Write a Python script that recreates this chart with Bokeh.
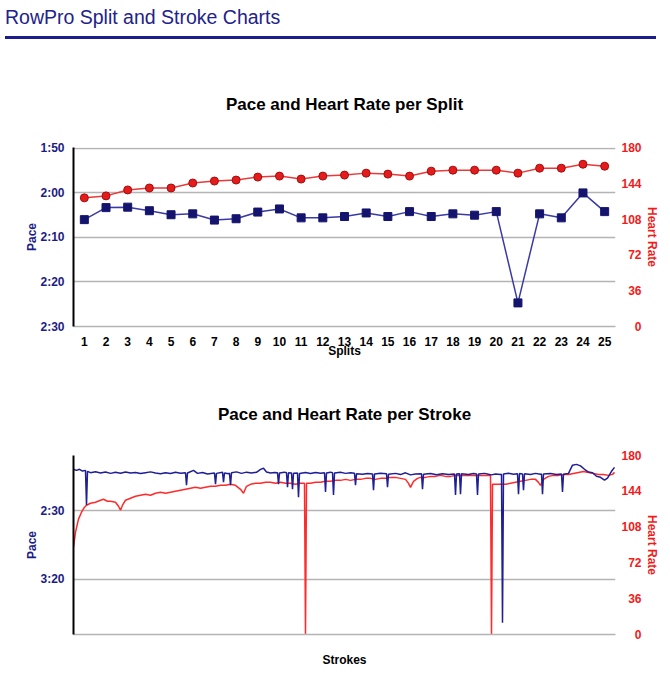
from bokeh.plotting import figure
from bokeh.models import Range1d, LinearAxis, FixedTicker, Div
from bokeh.layouts import column
from bokeh.embed import file_html
from bokeh.resources import INLINE

# ---------------- data ----------------
page_title = "RowPro Split and Stroke Charts"
split_title = "Pace and Heart Rate per Split"
stroke_title = "Pace and Heart Rate per Stroke"

splits = list(range(1, 26))
split_pace = [126.0, 123.3, 123.2, 124.0, 124.9, 124.7, 126.1, 125.8, 124.3, 123.6,
              125.6, 125.6, 125.3, 124.5, 125.3, 124.2, 125.3, 124.7, 125.0, 124.2,
              144.7, 124.7, 125.6, 120.0, 124.2]
split_hr = [130, 132, 138, 140, 140, 145, 147, 148, 151, 152,
            149, 152, 153, 155, 154, 152, 157, 158, 158, 158,
            155, 160, 160, 164, 162]

split_pace_ticks = [110, 120, 130, 140, 150]
split_pace_labels = ["1:50", "2:00", "2:10", "2:20", "2:30"]
stroke_pace_ticks = [150, 200]
stroke_pace_labels = ["2:30", "3:20"]
hr_ticks = [0, 36, 72, 108, 144, 180]
hr_labels = ["\u2007\u20070", "\u200736", "\u200772", "108", "144", "180"]

stroke_pace_x = [0, 6, 12, 18, 24, 26, 28, 34, 44, 54, 64, 74, 84, 94, 104, 114, 124, 134,
                 144, 154, 164, 174, 184, 194, 204, 214, 224, 226, 228, 240, 248, 258, 268,
                 282, 284, 286, 298, 300, 302, 310, 312, 314, 316, 326, 336, 346, 356, 366,
                 374, 380, 386, 394, 402, 408, 410, 412, 422, 426, 428, 430, 436, 438, 440,
                 448, 450, 452, 464, 474, 484, 494, 502, 504, 506, 514, 518, 520, 522, 534,
                 544, 554, 562, 564, 566, 578, 588, 598, 600, 602, 614, 626, 628, 630, 644,
                 654, 664, 674, 684, 696, 698, 700, 714, 726, 738, 750, 762, 764, 766, 772,
                 774, 776, 790, 800, 806, 808, 810, 822, 830, 836, 844, 854, 856, 858, 860,
                 870, 880, 888, 890, 892, 898, 900, 902, 914, 924, 934, 936, 938, 940, 954,
                 966, 976, 978, 980, 990, 998, 1006, 1014, 1022, 1030, 1038, 1046, 1054,
                 1062, 1068, 1076, 1082]
stroke_pace = [119.5, 120.3, 119.5, 120.8, 120.3, 145.7, 121.0, 122.0, 121.3, 122.2, 121.5,
               122.5, 121.7, 122.4, 121.5, 122.2, 121.8, 122.6, 122.0, 121.4, 122.3, 122.8,
               122.0, 122.6, 121.7, 122.4, 122.0, 131.2, 122.2, 120.3, 122.5, 121.8, 122.9,
               122.3, 130.4, 122.5, 121.6, 129.0, 122.2, 122.8, 122.4, 131.2, 122.0, 121.4,
               122.5, 121.6, 122.3, 121.7, 119.6, 118.8, 121.5, 122.2, 121.8, 122.0, 130.4,
               122.3, 121.6, 122.1, 132.6, 122.0, 122.2, 134.1, 122.4, 122.3, 139.9, 122.6,
               121.9, 122.6, 121.8, 122.4, 122.1, 136.2, 122.2, 121.6, 122.0, 138.4, 122.3,
               121.7, 122.5, 122.0, 122.4, 131.2, 122.8, 123.2, 122.6, 122.9, 134.8, 123.0,
               122.4, 122.8, 132.6, 123.2, 122.5, 123.4, 122.1, 123.6, 123.0, 122.8, 134.1,
               123.2, 122.6, 123.5, 122.8, 123.3, 122.9, 138.4, 123.0, 122.7, 137.7, 122.8,
               123.4, 122.6, 122.9, 138.4, 123.0, 122.5, 123.2, 123.6, 122.9, 123.4, 123.1,
               231.9, 123.0, 122.4, 123.1, 122.8, 137.7, 122.6, 122.9, 134.8, 122.8, 123.4,
               122.5, 123.2, 123.0, 137.7, 123.0, 122.6, 123.3, 122.9, 136.2, 123.2, 122.5,
               116.5, 115.9, 117.0, 119.5, 121.5, 122.0, 124.6, 125.4, 127.5, 126.0, 121.0,
               118.1]

stroke_hr_x = [0, 4, 10, 16, 22, 26, 34, 44, 54, 60, 68, 74, 84, 90, 94, 98, 104, 114, 124,
               134, 144, 154, 164, 174, 184, 194, 204, 214, 224, 234, 244, 254, 264, 274,
               284, 294, 304, 314, 324, 334, 340, 346, 354, 364, 374, 384, 394, 404, 414,
               424, 434, 444, 454, 462, 464, 466, 474, 484, 494, 504, 514, 524, 534, 544,
               554, 564, 574, 584, 594, 604, 614, 624, 634, 644, 654, 664, 670, 674, 680,
               688, 694, 704, 714, 724, 734, 744, 754, 764, 774, 784, 794, 804, 814, 824,
               834, 836, 838, 846, 854, 864, 874, 884, 894, 904, 914, 924, 930, 934, 940,
               950, 960, 970, 980, 990, 1000, 1010, 1020, 1030, 1040, 1050, 1060, 1070,
               1078, 1082]
stroke_hr = [88, 103, 116, 123, 128, 130, 132, 133, 135, 136, 134, 134, 133, 129, 125, 130,
             135, 137, 139, 140, 141, 140, 142, 143, 142, 143, 144, 145, 146, 147, 148, 147,
             148, 149, 149, 150, 150, 151, 150, 146, 142, 149, 151, 152, 152, 153, 153, 152,
             153, 152, 152, 151, 152, 152, 0, 152, 152, 153, 153, 154, 154, 155, 155, 156,
             155, 156, 156, 157, 157, 156, 157, 157, 158, 158, 157, 156, 152, 148, 154, 157,
             158, 158, 159, 159, 160, 159, 159, 160, 160, 160, 160, 160, 160, 160, 160, 0,
             151, 151, 151, 151, 152, 153, 154, 155, 156, 156, 153, 150, 156, 159, 160, 160,
             161, 161, 162, 163, 164, 163, 162, 161, 161, 160, 161, 163]

# ---------------- styles ----------------
FONT = "Liberation Sans"
NAVY = "#1c1c84"
RED = "#f01c1c"
GRID = "#b4b4b4"
W = 662


def style_common(p):
    p.outline_line_color = None
    p.background_fill_color = "white"
    p.border_fill_color = "white"
    p.title.text_font = FONT
    p.title.text_font_size = "17px"
    p.title.text_font_style = "bold"
    p.title.text_color = "black"
    p.title.align = "center"
    p.xgrid.grid_line_color = None
    p.ygrid.grid_line_color = GRID
    p.ygrid.grid_line_width = 1.5
    ax = p.xaxis[0]
    ax.axis_line_color = GRID
    ax.axis_line_width = 1.5
    ax.major_tick_line_color = None
    ax.minor_tick_line_color = None
    ax.major_label_text_font = FONT
    ax.major_label_text_font_size = "12px"
    ax.major_label_text_font_style = "bold"
    ax.major_label_text_color = "black"
    ax.axis_label_text_font = FONT
    ax.axis_label_text_font_size = "12px"
    ax.axis_label_text_font_style = "bold"
    ax.axis_label_text_color = "black"
    ly = p.yaxis[0]
    ly.axis_line_color = "black"
    ly.axis_line_width = 2
    ly.major_tick_line_color = None
    ly.minor_tick_line_color = None
    ly.major_label_standoff = 3
    ly.major_label_text_font = FONT
    ly.major_label_text_font_size = "12px"
    ly.major_label_text_font_style = "bold"
    ly.major_label_text_color = NAVY
    ly.axis_label = "Pace"
    ly.axis_label_standoff = -2
    ly.axis_label_text_font = FONT
    ly.axis_label_text_font_size = "12px"
    ly.axis_label_text_font_style = "bold"
    ly.axis_label_text_color = NAVY
    ry = LinearAxis(y_range_name="hr", ticker=FixedTicker(ticks=hr_ticks))
    ry.major_label_overrides = dict(zip(hr_ticks, hr_labels))
    ry.axis_line_color = None
    ry.major_tick_line_color = None
    ry.minor_tick_line_color = None
    ry.major_label_standoff = 0
    ry.major_label_text_font = FONT
    ry.major_label_text_font_size = "12px"
    ry.major_label_text_font_style = "bold"
    ry.major_label_text_color = RED
    ry.axis_label = "Heart Rate"
    ry.axis_label_standoff = 0
    ry.axis_label_text_font = FONT
    ry.axis_label_text_font_size = "12px"
    ry.axis_label_text_font_style = "bold"
    ry.axis_label_text_color = RED
    p.add_layout(ry, "right")


header = Div(
    text=('<div style="font-family:\'Liberation Sans\',Arial,sans-serif;font-size:19.5px;'
          'color:#22228c;line-height:19px;margin-top:3px;padding:0 0 9px 0;'
          'border-bottom:3px solid #1c1c8a;width:651px;">' + page_title + '</div>'),
    width=W, height=40)

# ---------------- split chart ----------------
p1 = figure(width=W, height=320, title=split_title,
            x_range=Range1d(0.5, 25.5), y_range=Range1d(150, 109.8),
            output_backend="svg", toolbar_location=None,
            min_border_left=73, min_border_right=47, min_border_top=97, min_border_bottom=44)
p1.extra_y_ranges = {"hr": Range1d(0, 180.9)}
style_common(p1)
p1.title.standoff = 68
p1.xaxis.ticker = FixedTicker(ticks=splits)
p1.xaxis.major_label_standoff = 4
p1.xaxis.axis_label = "Splits"
p1.xaxis.axis_label_standoff = -5
p1.yaxis[0].ticker = FixedTicker(ticks=split_pace_ticks)
p1.yaxis[0].major_label_overrides = dict(zip(split_pace_ticks, split_pace_labels))

p1.line(splits, split_hr, y_range_name="hr", line_color="#e83a3a", line_width=1.5)
p1.scatter(splits, split_hr, y_range_name="hr", marker="circle", size=8,
           fill_color="#e41c1c", line_color="#a40e0e", line_width=1)
p1.line(splits, split_pace, line_color="#3a3aa6", line_width=1.5)
p1.scatter(splits, split_pace, marker="square", size=8,
           fill_color="#14146e", line_color="#14146e")

# ---------------- stroke chart ----------------
p2 = figure(width=W, height=304, title=stroke_title,
            x_range=Range1d(0, 1084), y_range=Range1d(240.6, 109.4),
            output_backend="svg", toolbar_location=None,
            min_border_left=73, min_border_right=47, min_border_top=83, min_border_bottom=40)
p2.extra_y_ranges = {"hr": Range1d(0, 180)}
style_common(p2)
p2.title.standoff = 64
p2.xaxis.ticker = FixedTicker(ticks=[])
p2.xaxis.major_label_standoff = 0
p2.xaxis.axis_label = "Strokes"
p2.xaxis.axis_label_standoff = 18
p2.yaxis[0].ticker = FixedTicker(ticks=stroke_pace_ticks)
p2.yaxis[0].major_label_overrides = dict(zip(stroke_pace_ticks, stroke_pace_labels))

p2.line(stroke_hr_x, stroke_hr, y_range_name="hr", line_color="#ff2a2a", line_width=1.5)
p2.line(stroke_pace_x, stroke_pace, line_color="#1e1e96", line_width=1.5)

layout = column(header, p1, p2, spacing=0)
open("out.html", "w").write(file_html(layout, INLINE))
